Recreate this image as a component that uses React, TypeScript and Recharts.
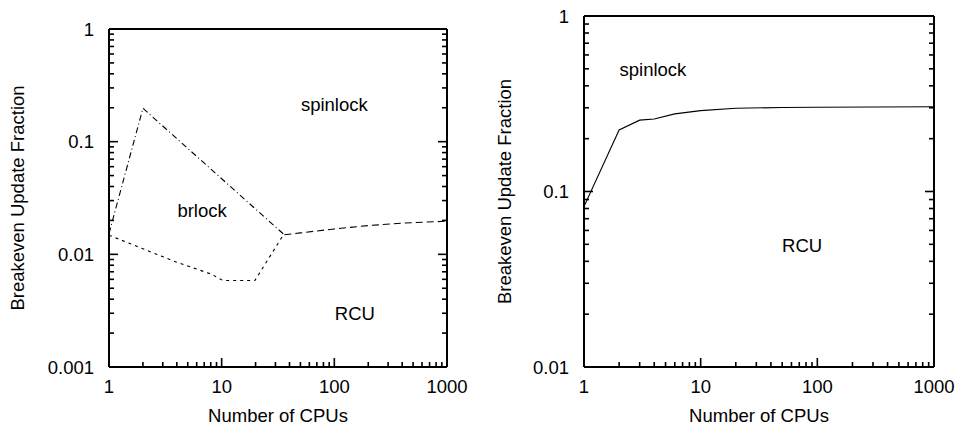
import React from 'react';
import { LineChart, Line, XAxis, YAxis, ReferenceDot } from 'recharts';

// x ticks (CPUs) and y ticks (fraction), decades only get labels
const xMajor = [1, 10, 100, 1000];
const yMajorLeft = [0.001, 0.01, 0.1, 1];
const yMajorRight = [0.01, 0.1, 1];

// left panel: brlock / spinlock boundary
const brSpinX = [1, 2, 36];
const brSpinY = [0.0153, 0.198, 0.0149];
// left panel: brlock / RCU boundary
const brRcuX = [1, 2, 4, 8, 10.3, 19.7, 35];
const brRcuY = [0.0148, 0.0112, 0.0085, 0.0067, 0.00585, 0.00585, 0.0147];
// left panel: spinlock / RCU boundary
const spinRcuX = [36, 50, 100, 200, 400, 1000];
const spinRcuY = [0.0149, 0.0155, 0.0168, 0.018, 0.0189, 0.0197];

// right panel: spinlock / RCU boundary
const rightX = [1, 2, 3, 4, 6, 10, 20, 50, 100, 1000];
const rightY = [0.082, 0.224, 0.255, 0.259, 0.277, 0.289, 0.298, 0.301, 0.302, 0.304];

// region names and where they sit
const leftRegions = ['spinlock', 'brlock', 'RCU'];
const leftRegionX = [100, 6.7, 152];
const leftRegionY = [0.212, 0.0246, 0.00298];
const rightRegions = ['spinlock', 'RCU'];
const rightRegionX = [3.9, 74];
const rightRegionY = [0.497, 0.0493];

const FONT = '"Liberation Sans", Arial, Helvetica, sans-serif';
const FS = 18.5;

const zip = (xs: number[], ys: number[]) => xs.map((x, i) => ({ x, y: ys[i] }));

const minors = (majors: number[]) => {
  const out: number[] = [];
  for (let i = 0; i < majors.length - 1; i++) {
    for (let k = 1; k <= 9; k++) out.push(majors[i] * k);
  }
  out.push(majors[majors.length - 1]);
  return out;
};

const isMajor = (v: number, majors: number[]) => majors.some((m) => Math.abs(v - m) / m < 1e-6);

type Side = 'bottom' | 'top' | 'left' | 'right';

const makeTick = (side: Side, majors: number[], showLabel: boolean) => (props: any) => {
  const { x, y, payload } = props;
  const v = payload.value;
  const major = isMajor(v, majors);
  const len = major ? 9 : 5;
  let x2 = x;
  let y2 = y;
  if (side === 'bottom') y2 = y - len;
  if (side === 'top') y2 = y + len;
  if (side === 'left') x2 = x + len;
  if (side === 'right') x2 = x - len;
  return (
    <g>
      <line x1={x} y1={y} x2={x2} y2={y2} stroke="#000" strokeWidth={1.6} />
      {showLabel && major && side === 'bottom' && (
        <text x={x} y={y + 26} textAnchor="middle" fontFamily={FONT} fontSize={FS} fill="#000">
          {String(v)}
        </text>
      )}
      {showLabel && major && side === 'left' && (
        <text x={x - 15} y={y + 6.5} textAnchor="end" fontFamily={FONT} fontSize={FS} fill="#000">
          {String(v)}
        </text>
      )}
    </g>
  );
};

const xTitle = (props: any) => {
  const { x, y, width } = props.viewBox;
  return (
    <text x={x + width / 2} y={y + 54.5} textAnchor="middle" fontFamily={FONT} fontSize={FS} fill="#000">
      Number of CPUs
    </text>
  );
};

const yTitle = (dist: number) => (props: any) => {
  const { x, y, height } = props.viewBox;
  const bx = x + 1 - dist;
  const cy = y + height / 2;
  return (
    <text transform={`translate(${bx},${cy}) rotate(-90)`} textAnchor="middle" fontFamily={FONT} fontSize={FS} fill="#000">
      Breakeven Update Fraction
    </text>
  );
};

const regionLabel = (text: string) => (props: any) => {
  const { x, y } = props.viewBox;
  return (
    <text x={x} y={y + 6.5} textAnchor="middle" fontFamily={FONT} fontSize={FS} fill="#000">
      {text}
    </text>
  );
};

interface PanelProps {
  left: number;
  width: number;
  plot: { top: number; right: number; bottom: number; left: number };
  yMajor: number[];
  titleDist: number;
  children: React.ReactNode;
}

// axes are 1px thick boxes; margins are shrunk by 1 so the frame sits on the plot edges
const Panel = ({ left, width, plot, yMajor, titleDist, children }: PanelProps) => {
  const xTicks = minors(xMajor);
  const yTicks = minors(yMajor);
  const yDomain = [yMajor[0], yMajor[yMajor.length - 1]];
  const axisLine = { stroke: '#000', strokeWidth: 2 };
  const margin = { top: plot.top - 1, right: plot.right - 1, bottom: plot.bottom - 1, left: plot.left - 1 };
  return (
    <div style={{ position: 'absolute', left, top: 0 }}>
      <LineChart width={width} height={425} margin={margin}>
        <XAxis
          dataKey="x"
          type="number"
          scale="log"
          domain={[1, 1000]}
          allowDataOverflow
          ticks={xTicks}
          interval={0}
          height={1}
          tickSize={0}
          tickMargin={0}
          axisLine={axisLine}
          tickLine={false}
          tick={makeTick('bottom', xMajor, true)}
          label={{ content: xTitle }}
        />
        <XAxis
          xAxisId="top"
          orientation="top"
          type="number"
          scale="log"
          domain={[1, 1000]}
          allowDataOverflow
          ticks={xTicks}
          interval={0}
          height={1}
          tickSize={0}
          tickMargin={0}
          axisLine={axisLine}
          tickLine={false}
          tick={makeTick('top', xMajor, false)}
        />
        <YAxis
          type="number"
          scale="log"
          domain={yDomain}
          allowDataOverflow
          ticks={yTicks}
          interval={0}
          width={1}
          tickSize={0}
          tickMargin={0}
          axisLine={axisLine}
          tickLine={false}
          tick={makeTick('left', yMajor, true)}
          label={{ content: yTitle(titleDist) }}
        />
        <YAxis
          yAxisId="right"
          orientation="right"
          type="number"
          scale="log"
          domain={yDomain}
          allowDataOverflow
          ticks={yTicks}
          interval={0}
          width={1}
          tickSize={0}
          tickMargin={0}
          axisLine={axisLine}
          tickLine={false}
          tick={makeTick('right', yMajor, false)}
        />
        {children}
      </LineChart>
    </div>
  );
};

const lineProps = {
  type: 'linear' as const,
  dataKey: 'y',
  stroke: '#000',
  strokeWidth: 1.1,
  dot: false,
  activeDot: false,
  isAnimationActive: false,
};

export default function App() {
  return (
    <div style={{ position: 'absolute', left: 0, top: 0, width: 957, height: 425, background: '#fff' }}>
      <Panel left={0} width={470} plot={{ top: 29, right: 23, bottom: 58, left: 109 }} yMajor={yMajorLeft} titleDist={85.5}>
        <Line {...lineProps} data={zip(brSpinX, brSpinY)} strokeDasharray="6 3 1 3" />
        <Line {...lineProps} data={zip(brRcuX, brRcuY)} strokeDasharray="3 4" />
        <Line {...lineProps} data={zip(spinRcuX, spinRcuY)} strokeDasharray="7 4" />
        {leftRegions.map((name, i) => (
          <ReferenceDot key={name} x={leftRegionX[i]} y={leftRegionY[i]} r={0} stroke="none" fill="none" label={{ content: regionLabel(name) }} />
        ))}
      </Panel>
      <Panel left={480} width={477} plot={{ top: 16, right: 23, bottom: 58, left: 104 }} yMajor={yMajorRight} titleDist={73.5}>
        <Line {...lineProps} data={zip(rightX, rightY)} />
        {rightRegions.map((name, i) => (
          <ReferenceDot key={name} x={rightRegionX[i]} y={rightRegionY[i]} r={0} stroke="none" fill="none" label={{ content: regionLabel(name) }} />
        ))}
      </Panel>
    </div>
  );
}
